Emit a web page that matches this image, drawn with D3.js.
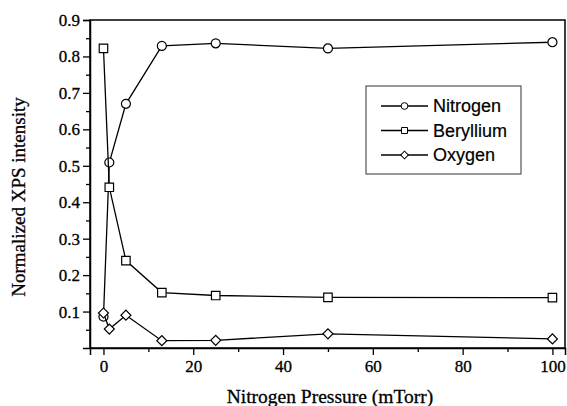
<!DOCTYPE html>
<html><head><meta charset="utf-8">
<script src="https://cdn.jsdelivr.net/npm/d3@7"></script>
<style>body{margin:0;background:#fff}svg{display:block}
.tick text{font-family:'Liberation Serif','Times New Roman',serif;font-size:17px;fill:#000;stroke:#000;stroke-width:0.3px}</style>
</head><body>
<script>
const pressure = [0, 1.3, 5, 13, 25, 50, 100];
const nitrogen = [0.086, 0.509, 0.670, 0.829, 0.836, 0.822, 0.839];
const beryllium = [0.822, 0.441, 0.240, 0.152, 0.144, 0.139, 0.138];
const oxygen = [0.096, 0.052, 0.090, 0.020, 0.021, 0.039, 0.025];
const seriesNames = ["Nitrogen", "Beryllium", "Oxygen"];
const xTicks = [0, 20, 40, 60, 80, 100];
const yTicks = [0.1, 0.2, 0.3, 0.4, 0.5, 0.6, 0.7, 0.8, 0.9];

const W = 567, H = 406;
const m = {l: 90, r: 2, t: 20, b: 58};
const svg = d3.select("body").append("svg").attr("width", W).attr("height", H);
const x = d3.scaleLinear().domain([-3, 102.8]).range([m.l, W - m.r]);
const y = d3.scaleLinear().domain([0, 0.9]).range([H - m.b, m.t]);
const serif = "'Liberation Serif','Times New Roman',serif";
const sans = "'Liberation Sans',Arial,sans-serif";

// frame
svg.append("rect").attr("x", m.l).attr("y", m.t).attr("width", W - m.r - m.l).attr("height", H - m.b - m.t)
  .attr("fill", "none").attr("stroke", "#000").attr("stroke-width", 1.5);

// x axis
svg.append("g").attr("transform", `translate(0,${H - m.b})`)
  .call(d3.axisBottom(x).tickValues(xTicks).tickSize(7).tickPadding(5).tickFormat(d3.format("d")));
svg.append("g").attr("transform", `translate(0,${H - m.b})`)
  .call(d3.axisBottom(x).tickValues([10, 30, 50, 70, 90]).tickSize(4).tickFormat(""))
  .call(g => g.select(".domain").remove());
// y axis
svg.append("g").attr("transform", `translate(${m.l},0)`)
  .call(d3.axisLeft(y).tickValues(yTicks).tickSize(7).tickPadding(3).tickFormat(d3.format(".1f")));
svg.append("g").attr("transform", `translate(${m.l},0)`)
  .call(d3.axisLeft(y).tickValues(d3.range(0.05, 0.9, 0.1)).tickSize(4).tickFormat(""))
  .call(g => g.select(".domain").remove());
svg.selectAll(".tick line").attr("stroke-width", 1.3);
svg.selectAll(".domain").attr("stroke-width", 1.5);

// titles
svg.append("text").attr("x", (x(0) + x(100)) / 2 + 2).attr("y", 403).attr("text-anchor", "middle")
  .attr("font-family", serif).attr("font-size", 19.5).attr("stroke", "#000").attr("stroke-width", 0.3)
  .text("Nitrogen Pressure (mTorr)");
svg.append("text").attr("transform", "translate(25,197) rotate(-90)").attr("text-anchor", "middle")
  .attr("font-family", serif).attr("font-size", 19).attr("stroke", "#000").attr("stroke-width", 0.3)
  .text("Normalized XPS intensity");

const symbols = [d3.symbolCircle, d3.symbolSquare, d3.symbolSquare];
const rot = [0, 0, 45];
const sizes = [64, 72, 50];
const data = [nitrogen, beryllium, oxygen];
const line = d3.line().x((d, i) => x(pressure[i])).y(d => y(d));
data.forEach((vals, k) => {
  svg.append("path").attr("d", line(vals)).attr("fill", "none").attr("stroke", "#000").attr("stroke-width", 1.3);
  svg.append("g").selectAll("path").data(vals).join("path")
    .attr("transform", (d, i) => `translate(${x(pressure[i])},${y(d)}) rotate(${rot[k]})`)
    .attr("d", d3.symbol(symbols[k], sizes[k]))
    .attr("fill", "#fff").attr("stroke", "#000").attr("stroke-width", 1.2);
});

// legend
const lg = svg.append("g");
lg.append("rect").attr("x", 366).attr("y", 86).attr("width", 155).attr("height", 88)
  .attr("fill", "#fff").attr("stroke", "#333").attr("stroke-width", 1);
seriesNames.forEach((name, k) => {
  const yy = 106 + k * 24.5;
  lg.append("line").attr("x1", 381).attr("x2", 428).attr("y1", yy).attr("y2", yy).attr("stroke", "#000").attr("stroke-width", 1.3);
  lg.append("path").attr("transform", `translate(404.5,${yy}) rotate(${rot[k]})`).attr("d", d3.symbol(symbols[k], [36, 36, 30][k]))
    .attr("fill", "#fff").attr("stroke", "#000").attr("stroke-width", 1);
  lg.append("text").attr("x", 433).attr("y", yy + 6.3).attr("font-family", sans).attr("font-size", 18)
    .attr("stroke", "#000").attr("stroke-width", 0.2).text(name);
});
</script>
</body></html>
